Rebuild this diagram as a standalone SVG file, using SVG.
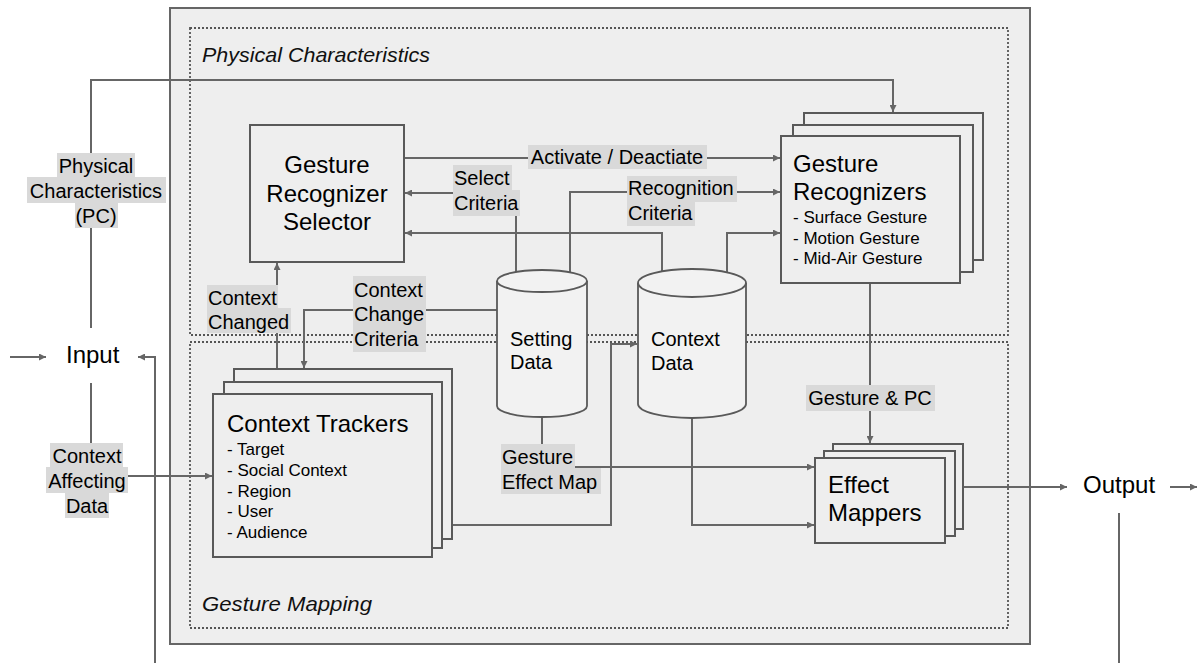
<svg xmlns="http://www.w3.org/2000/svg" width="1198" height="663" viewBox="0 0 1198 663">
<style>
.t{font-family:"Liberation Sans",Arial,sans-serif;fill:#000}
.title{font-size:24px}
.item{font-size:17px}
.lbl{font-size:20px}
.sec{font-family:"Liberation Sans",Arial,sans-serif;font-style:italic;font-size:21px;fill:#111}
.box{fill:#eeeeee;stroke:#595959;stroke-width:2}
.cyl{fill:#f2f2f2;stroke:#595959;stroke-width:1.8}
.con{fill:none;stroke:#666;stroke-width:2}
.dot{fill:none;stroke:#555;stroke-width:1.8;stroke-dasharray:2 2}
.bg{fill:#d9d9d9}
</style>
<defs>
<marker id="ah" viewBox="0 0 10 10" refX="10" refY="5" markerWidth="9" markerHeight="7" markerUnits="userSpaceOnUse" orient="auto"><path d="M0,0 L10,5 L0,10 z" fill="#666"/></marker>
</defs>
<rect width="1198" height="663" fill="#fff"/>
<g id="frame">
<rect x="170" y="8" width="860" height="636" fill="#eeeeee" stroke="#666" stroke-width="2"/>
<rect x="190" y="28" width="818" height="307" class="dot"/>
<rect x="190" y="342" width="818" height="286" class="dot"/>
<text class="sec" x="202" y="62" textLength="228" lengthAdjust="spacingAndGlyphs">Physical Characteristics</text>
<text class="sec" x="202" y="611" textLength="170" lengthAdjust="spacingAndGlyphs">Gesture Mapping</text>
</g>
<g id="connectors">
<path class="con" d="M91,328 V80 H893 V112" marker-end="url(#ah)"/>
<path class="con" d="M10,357 H46" marker-end="url(#ah)"/>
<path class="con" d="M155,663 V357 H138" marker-end="url(#ah)"/>
<path class="con" d="M91,383 V445"/>
<path class="con" d="M110,476 H212" marker-end="url(#ah)"/>
<path class="con" d="M277,369 V263" marker-end="url(#ah)"/>
<path class="con" d="M497,310 H304 V368" marker-end="url(#ah)"/>
<path class="con" d="M516,275 V193 H405" marker-end="url(#ah)"/>
<path class="con" d="M570,275 V192 H780" marker-end="url(#ah)"/>
<path class="con" d="M404,158 H780" marker-end="url(#ah)"/>
<path class="con" d="M662,275 V233 H405" marker-end="url(#ah)"/>
<path class="con" d="M727,275 V233 H780" marker-end="url(#ah)"/>
<path class="con" d="M870,283 V443" marker-end="url(#ah)"/>
<path class="con" d="M542,410 V467 H814" marker-end="url(#ah)"/>
<path class="con" d="M692,410 V525 H814" marker-end="url(#ah)"/>
<path class="con" d="M450,525 H611 V344 H637" marker-end="url(#ah)"/>
<path class="con" d="M963,487 H1067" marker-end="url(#ah)"/>
<path class="con" d="M1170,487 H1197" marker-end="url(#ah)"/>
<path class="con" d="M1119,513 V663"/>
</g>
<g id="input"><text class="t title" x="66" y="363">Input</text></g>
<g id="output"><text class="t title" x="1083" y="493">Output</text></g>
<g id="selector">
<rect class="box" x="250" y="125" width="154" height="137"/>
<text class="t title" text-anchor="middle"><tspan x="327" y="173">Gesture</tspan><tspan x="327" y="202">Recognizer</tspan><tspan x="327" y="230">Selector</tspan></text>
</g>
<g id="recognizers">
<rect class="box" x="804" y="113" width="179" height="147"/>
<rect class="box" x="793" y="125" width="180" height="147"/>
<rect class="box" x="781" y="136" width="179" height="147"/>
<text class="t title" x="793" y="172">Gesture</text>
<text class="t title" x="793" y="200">Recognizers</text>
<text class="t item"><tspan x="793" y="223">- Surface Gesture</tspan><tspan x="793" y="244">- Motion Gesture</tspan><tspan x="793" y="264">- Mid-Air Gesture</tspan></text>
</g>
<g id="trackers">
<rect class="box" x="234" y="369" width="218" height="170"/>
<rect class="box" x="224" y="382" width="218" height="166"/>
<rect class="box" x="213" y="394" width="219" height="163"/>
<text class="t title" x="227" y="432">Context Trackers</text>
<text class="t item"><tspan x="227" y="455">- Target</tspan><tspan x="227" y="476">- Social Context</tspan><tspan x="227" y="497">- Region</tspan><tspan x="227" y="517">- User</tspan><tspan x="227" y="538">- Audience</tspan></text>
</g>
<g id="setting-data">
<path class="cyl" d="M497,281 V406 A45,11 0 0 0 587,406 V281"/>
<ellipse class="cyl" cx="542" cy="281" rx="45" ry="11"/>
<text class="t lbl"><tspan x="510" y="346">Setting</tspan><tspan x="510" y="369">Data</tspan></text>
</g>
<g id="context-data">
<path class="cyl" d="M638,283 V404 A54,14 0 0 0 746,404 V283"/>
<ellipse class="cyl" cx="692" cy="283" rx="54" ry="14"/>
<text class="t lbl"><tspan x="651" y="346">Context</tspan><tspan x="651" y="370">Data</tspan></text>
</g>
<g id="effect-mappers">
<rect class="box" x="833" y="444" width="130" height="85"/>
<rect class="box" x="824" y="451" width="131" height="85"/>
<rect class="box" x="815" y="458" width="130" height="85"/>
<text class="t title"><tspan x="828" y="493">Effect</tspan><tspan x="828" y="521">Mappers</tspan></text>
</g>
<g id="labels">
<rect class="bg" x="57" y="153" width="78" height="25"/>
<rect class="bg" x="27" y="177" width="139" height="26"/>
<rect class="bg" x="75" y="202" width="43" height="26"/>
<text class="t lbl" text-anchor="middle"><tspan x="96" y="173">Physical</tspan><tspan x="96" y="198">Characteristics</tspan><tspan x="96" y="223">(PC)</tspan></text>
<rect class="bg" x="50" y="443" width="73" height="25"/>
<rect class="bg" x="46" y="467" width="82" height="26"/>
<rect class="bg" x="65" y="492" width="44" height="26"/>
<text class="t lbl" text-anchor="middle"><tspan x="87" y="463">Context</tspan><tspan x="87" y="488">Affecting</tspan><tspan x="87" y="513">Data</tspan></text>
<rect class="bg" x="207" y="285" width="71" height="24"/>
<rect class="bg" x="207" y="308" width="84" height="25"/>
<text class="t lbl"><tspan x="208" y="305">Context</tspan><tspan x="208" y="329">Changed</tspan></text>
<rect class="bg" x="353" y="276" width="73" height="76"/>
<text class="t lbl"><tspan x="354" y="297">Context</tspan><tspan x="354" y="321">Change</tspan><tspan x="354" y="346">Criteria</tspan></text>
<rect class="bg" x="453" y="165" width="59" height="26"/>
<rect class="bg" x="453" y="190" width="67" height="26"/>
<text class="t lbl"><tspan x="454" y="185">Select</tspan><tspan x="454" y="210">Criteria</tspan></text>
<rect class="bg" x="627" y="176" width="110" height="26"/>
<rect class="bg" x="627" y="201" width="68" height="25"/>
<text class="t lbl"><tspan x="628" y="195">Recognition</tspan><tspan x="628" y="220">Criteria</tspan></text>
<rect class="bg" x="528" y="145" width="179" height="24"/>
<text class="t lbl" x="617" y="164" text-anchor="middle">Activate / Deactiate</text>
<rect class="bg" x="806" y="385" width="129" height="26"/>
<text class="t lbl" x="870" y="405" text-anchor="middle">Gesture &amp; PC</text>
<rect class="bg" x="501" y="444" width="74" height="25"/>
<rect class="bg" x="501" y="468" width="100" height="26"/>
<text class="t lbl"><tspan x="502" y="464">Gesture</tspan><tspan x="502" y="489">Effect Map</tspan></text>
</g>
</svg>
